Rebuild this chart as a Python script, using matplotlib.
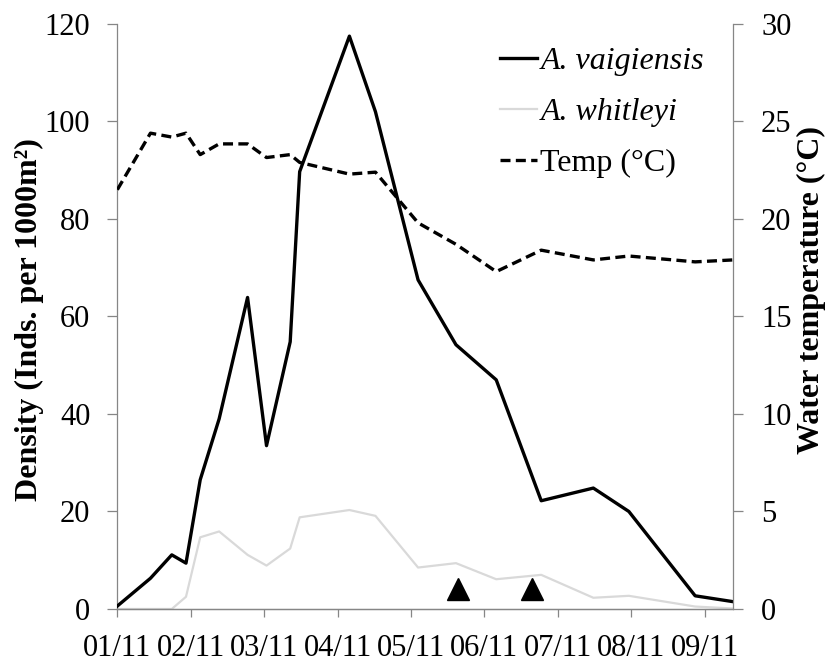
import matplotlib
matplotlib.use("Agg")
import matplotlib.pyplot as plt
import matplotlib.dates as mdates
import numpy as np
import pandas as pd

# Sampling dates (2011) and densities (individuals per 1000 m²)
sample_dates = ["2011-01-01", "2011-01-15", "2011-01-24", "2011-01-30", "2011-02-05",
                "2011-02-13", "2011-02-25", "2011-03-05", "2011-03-15", "2011-03-19",
                "2011-04-09", "2011-04-20", "2011-05-08", "2011-05-24", "2011-06-10",
                "2011-06-29", "2011-07-21", "2011-08-05", "2011-09-02", "2011-09-18"]
vaigiensis = [0.6, 6.3, 11.1, 9.4, 26.5, 39.0, 63.9, 33.5, 54.8, 89.7,
              117.5, 102.0, 67.5, 54.2, 47.0, 22.2, 24.8, 20.0, 2.7, 1.5]
whitleyi = [0.0, 0.0, 0.0, 2.5, 14.7, 15.9, 11.1, 8.9, 12.4, 18.8,
            20.3, 19.1, 8.5, 9.4, 6.1, 7.0, 2.3, 2.7, 0.5, 0.1]
# Water temperature (°C)
temperature = [21.5, 24.4, 24.2, 24.4, 23.3, 23.85, 23.85, 23.15, 23.3, 22.9,
               22.3, 22.4, 19.8, 18.7, 17.3, 18.4, 17.9, 18.1, 17.8, 17.9]

# Event markers shown on the density axis
event_dates = ["2011-05-25", "2011-06-25"]
event_level = [4.0, 4.0]

tick_labels = ["01/11", "02/11", "03/11", "04/11", "05/11",
               "06/11", "07/11", "08/11", "09/11"]

serif = ["Liberation Serif", "DejaVu Serif"]
plt.rcParams["font.family"] = serif
grey = "#868686"

x = mdates.date2num(pd.to_datetime(sample_dates))
xe = mdates.date2num(pd.to_datetime(event_dates))
x0 = x[0]
tick_pos = x0 + 31 * np.arange(len(tick_labels))

fig = plt.figure(figsize=(8.35, 6.62), dpi=100)
ax = fig.add_axes([0.1405, 0.0801, 0.7374, 0.8837])
ax2 = ax.twinx()

l1, = ax.plot(x, vaigiensis, color="black", lw=2.4, label="A. vaigiensis",
              solid_joinstyle="round", zorder=3)
l2, = ax.plot(x, whitleyi, color="#d9d9d9", lw=1.6, label="A. whitleyi", zorder=2)
ax.plot(xe, event_level, linestyle="none", marker="^", ms=15.5, color="black", zorder=4)
l3, = ax2.plot(x, temperature, color="black", lw=2.4, dashes=(3, 1.6),
               dash_capstyle="butt", label="Temp (°C)")

ax.set_xlim(x[0], x[-1])
ax.set_ylim(0, 120)
ax2.set_ylim(0, 30)
ax.set_yticks(np.arange(0, 121, 20))
ax2.set_yticks(np.arange(0, 31, 5))
ax.set_xticks(tick_pos)
ax.set_xticklabels(tick_labels)

for a in (ax, ax2):
    a.spines["top"].set_visible(False)
    for s in ("left", "right", "bottom"):
        a.spines[s].set_color(grey)
        a.spines[s].set_linewidth(0.9)
ax2.spines["left"].set_visible(False)
ax.spines["right"].set_visible(False)

ax.tick_params(axis="y", direction="out", length=7.2, width=0.9, color=grey,
               pad=12.2, labelsize=22)
ax2.tick_params(axis="y", direction="out", length=7.2, width=0.9, color=grey,
                pad=13, labelsize=22)
ax.tick_params(axis="x", direction="out", length=5.8, width=0.9, color=grey,
               pad=12, labelsize=22)

ax.set_ylabel("Density (Inds. per 1000m²)", fontsize=23, fontweight="bold",
              va="center", rotation=90)
ax.yaxis.set_label_coords(-0.143, 0.494)
ax2.set_ylabel("Water temperature (°C)", fontsize=23, fontweight="bold",
               va="center", rotation=90)
ax2.yaxis.set_label_coords(1.128, 0.545)

leg = ax2.legend(handles=[l1, l2, l3], loc="upper left",
                 bbox_to_anchor=(0.6216, 0.961), frameon=False, fontsize=23,
                 handlelength=1.16, handletextpad=0.1, labelspacing=0.68,
                 borderaxespad=0, borderpad=0)
for t in leg.get_texts()[:2]:
    t.set_fontstyle("italic")

fig.savefig("out.png", dpi=100)
